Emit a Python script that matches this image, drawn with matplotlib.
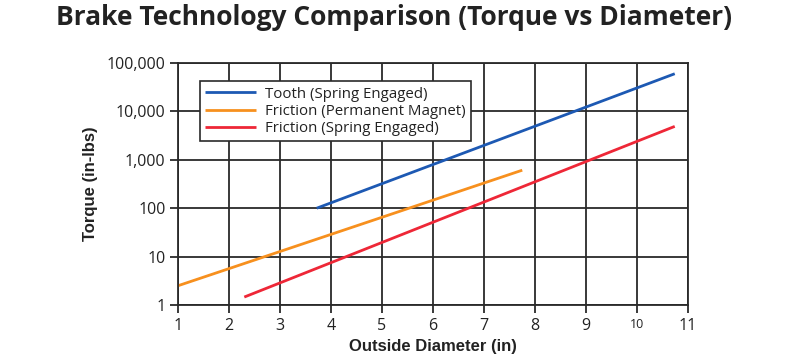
import matplotlib
matplotlib.use("Agg")
import matplotlib.pyplot as plt
from matplotlib.ticker import FixedLocator

# Data (endpoints of straight lines on semi-log axes)
tooth_x = [3.72, 10.74]
tooth_y = [100, 60000]
pm_x = [1.0, 7.75]
pm_y = [2.5, 610]
spring_x = [2.30, 10.74]
spring_y = [1.46, 4900]

x_ticks = [1, 2, 3, 4, 5, 6, 7, 8, 9, 10, 11]
y_ticks = [1, 10, 100, 1000, 10000, 100000]
y_labels = ["1", "10", "100", "1,000", "10,000", "100,000"]

labels = ["Tooth (Spring Engaged)", "Friction (Permanent Magnet)", "Friction (Spring Engaged)"]
colors = ["#1d59b3", "#f7901e", "#ee2737"]

fig = plt.figure(figsize=(7.92, 3.64), dpi=100)
ax = fig.add_axes([178/792, 1 - 305/364, (688 - 178)/792, (305 - 63)/364])

ax.plot(tooth_x, tooth_y, color=colors[0], lw=2, label=labels[0], solid_capstyle='butt')
ax.plot(pm_x, pm_y, color=colors[1], lw=2, label=labels[1], solid_capstyle='butt')
ax.plot(spring_x, spring_y, color=colors[2], lw=2, label=labels[2], solid_capstyle='butt')

ax.set_yscale('log')
ax.set_xlim(1, 11)
ax.set_ylim(1, 100000)
ax.xaxis.set_major_locator(FixedLocator(x_ticks))
ax.yaxis.set_major_locator(FixedLocator(y_ticks))
ax.yaxis.set_minor_locator(FixedLocator([]))
ax.set_yticklabels(y_labels)
ax.set_xticklabels([str(v) for v in x_ticks])

tick_font = "Open Sans"
for lbl in ax.get_xticklabels() + ax.get_yticklabels():
    lbl.set_fontfamily(tick_font)
    lbl.set_fontsize(11.5)
    lbl.set_color("#222222")
ax.get_xticklabels()[9].set_fontsize(9)

ax.grid(True, which='major', color="#2a2a2a", lw=1.3)
for sp in ax.spines.values():
    sp.set_color("#2a2a2a")
    sp.set_linewidth(1.3)
ax.tick_params(axis='both', which='major', length=6, width=1.3, color="#2a2a2a", direction='out', pad=3)
ax.set_axisbelow(True)

ax.set_xlabel("Outside Diameter (in)", fontsize=12, fontweight='bold', family="Liberation Sans", color="#222222", labelpad=4)
ax.set_ylabel("Torque (in-lbs)", fontsize=12, fontweight='bold', family="Liberation Sans", color="#222222", labelpad=6)

fig.text(0.497, 0.953, "Brake Technology Comparison (Torque vs Diameter)", ha='center', va='center',
         fontsize=19, fontweight='bold', family="Open Sans", color="#222222")

leg = ax.legend(loc='upper left', bbox_to_anchor=(0.028, 0.955), frameon=True, fancybox=False,
                edgecolor="#2a2a2a", framealpha=1, prop={'family': 'Open Sans', 'size': 10.8},
                handlelength=3.4, borderpad=0.35, labelspacing=0.15, handletextpad=0.6)
leg.get_frame().set_linewidth(1.2)
for t in leg.get_texts():
    t.set_color("#222222")

fig.savefig("out.png", dpi=100)
